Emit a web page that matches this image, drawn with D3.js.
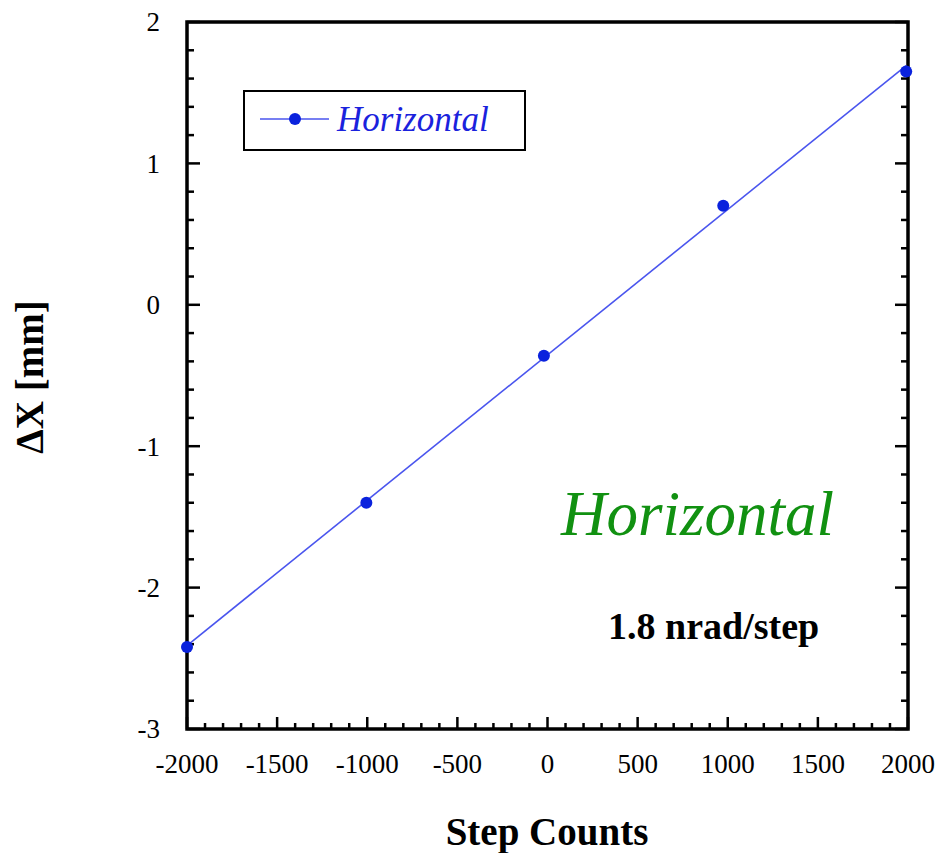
<!DOCTYPE html>
<html>
<head>
<meta charset="utf-8">
<script src="https://cdn.jsdelivr.net/npm/d3@7"></script>
<style>
  html, body { margin: 0; padding: 0; background: #fff; }
  svg { display: block; font-family: "Liberation Serif", "Times New Roman", serif; }
</style>
</head>
<body>
<svg id="chart" width="939" height="853"></svg>
<script>
// ---- data ----
const stepCounts = [-2000, -1005, -20, 975, 1990];
const deltaX = [-2.42, -1.40, -0.36, 0.70, 1.65];
const xTicks = [-2000, -1500, -1000, -500, 0, 500, 1000, 1500, 2000];
const yTicks = [-3, -2, -1, 0, 1, 2];
const seriesName = "Horizontal";
const annotationTitle = "Horizontal";
const annotationRate = "1.8 nrad/step";
const xLabel = "Step Counts";
const yLabel = "ΔX [mm]";

// ---- layout ----
const svg = d3.select("#chart");
const L = 187, R = 908, T = 22, B = 729;
const x = d3.scaleLinear().domain([-2000, 2000]).range([L, R]);
const y = d3.scaleLinear().domain([-3, 2]).range([B, T]);

const xMinor = d3.range(-2000, 2001, 100);
const yMinor = d3.range(-3, 2.0001, 0.2).map(v => +v.toFixed(2));

const tickW = 2.5;
// minor/major ticks bottom (inward, up)
const isMajorX = v => Math.abs(v % 500) < 1e-6;
const isMajorY = v => Math.abs(v - Math.round(v)) < 1e-6;

const ticksG = svg.append("g").attr("stroke", "#000").attr("stroke-width", tickW);
ticksG.selectAll("line.xb").data(xMinor).enter().append("line")
  .attr("x1", d => x(d)).attr("x2", d => x(d))
  .attr("y1", B).attr("y2", d => B - (isMajorX(d) ? 12 : 6));
ticksG.selectAll("line.yl").data(yMinor).enter().append("line")
  .attr("y1", d => y(d)).attr("y2", d => y(d))
  .attr("x1", L).attr("x2", d => L + (isMajorY(d) ? 13 : 7));
ticksG.selectAll("line.yr").data(yMinor).enter().append("line")
  .attr("y1", d => y(d)).attr("y2", d => y(d))
  .attr("x1", R).attr("x2", d => R - (isMajorY(d) ? 13 : 7));

// frame
svg.append("rect").attr("x", L).attr("y", T).attr("width", R - L).attr("height", B - T)
  .attr("fill", "none").attr("stroke", "#000").attr("stroke-width", 3.5);

// tick labels
svg.append("g").selectAll("text").data(xTicks).enter().append("text")
  .attr("x", d => x(d)).attr("y", 773)
  .attr("text-anchor", "middle").attr("font-size", 27).attr("fill", "#000")
  .text(d => d);
svg.append("g").selectAll("text").data(yTicks).enter().append("text")
  .attr("x", 160).attr("y", d => y(d)).attr("dy", "0.35em")
  .attr("text-anchor", "end").attr("font-size", 27).attr("fill", "#000")
  .text(d => d);

// axis titles
svg.append("text").attr("x", 547).attr("y", 845)
  .attr("text-anchor", "middle").attr("font-size", 39).attr("font-weight", "bold")
  .text(xLabel);
svg.append("text").attr("transform", "translate(43,377) rotate(-90)")
  .attr("text-anchor", "middle").attr("font-size", 39).attr("font-weight", "bold")
  .text(yLabel);

// least-squares fit line derived from the data
const n = stepCounts.length;
const mx = d3.mean(stepCounts), my = d3.mean(deltaX);
let sxy = 0, sxx = 0;
for (let i = 0; i < n; i++) { sxy += (stepCounts[i] - mx) * (deltaX[i] - my); sxx += (stepCounts[i] - mx) ** 2; }
const slope = sxy / sxx, icpt = my - slope * mx;
const xe = d3.extent(stepCounts);
svg.append("line")
  .attr("x1", x(xe[0])).attr("y1", y(icpt + slope * xe[0]))
  .attr("x2", x(xe[1])).attr("y2", y(icpt + slope * xe[1]))
  .attr("stroke", "#4a55ee").attr("stroke-width", 1.6);

// points
svg.append("g").selectAll("circle").data(stepCounts).enter().append("circle")
  .attr("cx", d => x(d)).attr("cy", (d, i) => y(deltaX[i])).attr("r", 6)
  .attr("fill", "#0a22dd");

// legend
const lg = svg.append("g");
lg.append("rect").attr("x", 244).attr("y", 91).attr("width", 281).attr("height", 59)
  .attr("fill", "#fff").attr("stroke", "#000").attr("stroke-width", 2);
lg.append("line").attr("x1", 260).attr("x2", 329).attr("y1", 119).attr("y2", 119)
  .attr("stroke", "#4a55ee").attr("stroke-width", 1.6);
lg.append("circle").attr("cx", 295).attr("cy", 119).attr("r", 6).attr("fill", "#0a22dd");
lg.append("text").attr("x", 337).attr("y", 131).attr("font-size", 35)
  .attr("font-style", "italic").attr("fill", "#1a22dd").text(seriesName);

// annotations
svg.append("text").attr("x", 561).attr("y", 535).attr("font-size", 63)
  .attr("font-style", "italic").attr("fill", "#119111").text(annotationTitle);
svg.append("text").attr("x", 608).attr("y", 639).attr("font-size", 38)
  .attr("font-weight", "bold").attr("fill", "#000").text(annotationRate);
</script>
</body>
</html>
